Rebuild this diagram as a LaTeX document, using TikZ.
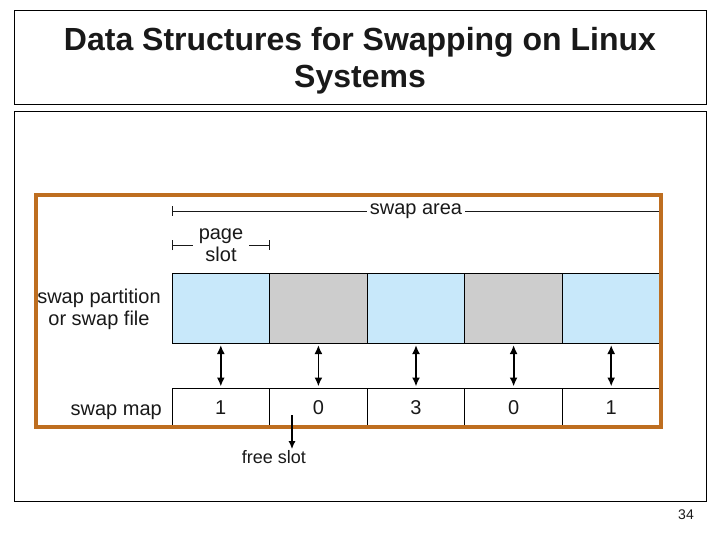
\documentclass[tikz,border=0pt]{standalone}
\usepackage{fontspec}
\setmainfont{Liberation Sans}
\usetikzlibrary{positioning, arrows.meta, calc}
\definecolor{frameOrange}{RGB}{190,110,32}
\definecolor{slotBlue}{RGB}{200,232,250}
\definecolor{slotGray}{RGB}{205,205,205}
\definecolor{textDark}{RGB}{25,25,25}

\tikzset{
    lbltext/.style={font=\fontsize{20}{22}\selectfont, text=textDark, inner sep=0pt},
    slotcell/.style={draw=black, line width=0.8pt, minimum width=97.6pt,
        minimum height=70pt, inner sep=0pt, outer sep=0pt},
    mapcell/.style={slotcell, minimum height=39pt, fill=white},
    dblarrow/.style={line width=1.8pt, shorten <=2pt, shorten >=2pt,
        {Latex[length=9pt,width=8pt]}-{Latex[length=9pt,width=8pt]}},
    dimline/.style={line width=0.8pt, textDark},
}

\begin{document}
\begin{tikzpicture}[x=1pt, y=-1pt, every node/.style={text=textDark}]
% Canvas: 720 x 540, pixel units, y pointing down
\useasboundingbox[fill=white] (0,0) rectangle (720,540);

% --- Title panel ---
\draw[line width=0.8pt] (14,10) rectangle (706,104);
\node[font=\bfseries\fontsize{32}{37}\selectfont, align=center] (title) at (360,61)
    {Data Structures for Swapping on Linux\\Systems};

% --- Content panel ---
\draw[line width=0.8pt] (14,111) rectangle (706,501);

% --- Slots, swap map and the arrows between them ---
\foreach \i/\col/\v in {1/slotBlue/1, 2/slotGray/0, 3/slotBlue/3, 4/slotGray/0, 5/slotBlue/1} {
    \node[slotcell, fill=\col] (slot\i) at ({123.2+97.6*\i}, 308) {};
    \node[mapcell, font=\fontsize{20}{22}\selectfont] (map\i) at ({123.2+97.6*\i}, 408) {\v};
    \draw[dblarrow] (slot\i.south) -- (map\i.north);
}

% --- Row labels ---
\node[lbltext, align=center] (partlbl) at (99,309) {swap partition\\or swap file};
\node[lbltext, anchor=base east] (maplbl) at (162,415) {swap map};

% --- Swap area dimension ---
\node[lbltext, fill=white, inner xsep=3pt] (arealbl) at (416,211) {swap area};
\coordinate (areaL) at (slot1.north west |- arealbl.west);
\coordinate (areaR) at (slot5.north east |- arealbl.east);
\draw[dimline, {Bar[width=10pt]}-] (areaL) -- (arealbl.west);
\draw[dimline] (arealbl.east) -- (areaR);

% --- Page slot dimension ---
\node[lbltext, align=center, inner xsep=6pt] (pagelbl) at (221,245) {page\\slot};
\coordinate (pageL) at (slot1.north west |- pagelbl.west);
\coordinate (pageR) at (slot1.north east |- pagelbl.east);
\draw[dimline, {Bar[width=10pt]}-] (pageL) -- (pagelbl.west);
\draw[dimline, -{Bar[width=10pt]}] (pagelbl.east) -- (pageR);

% --- Orange frame on top of the cell edges ---
\draw[frameOrange, line width=3.8pt] (36,195) rectangle (661,427);

% --- Free slot pointer ---
\node[font=\fontsize{18}{20}\selectfont, inner sep=1pt] (freelbl) at (274,457) {free slot};
\coordinate (freetop) at (292,415);
\draw[line width=1.6pt, -{Latex[length=8pt,width=7pt]}] (freetop) -- (freetop |- freelbl.north);

% --- Page number ---
\node[font=\fontsize{14}{16}\selectfont] (pageno) at (686,515) {34};

\end{tikzpicture}
\end{document}
